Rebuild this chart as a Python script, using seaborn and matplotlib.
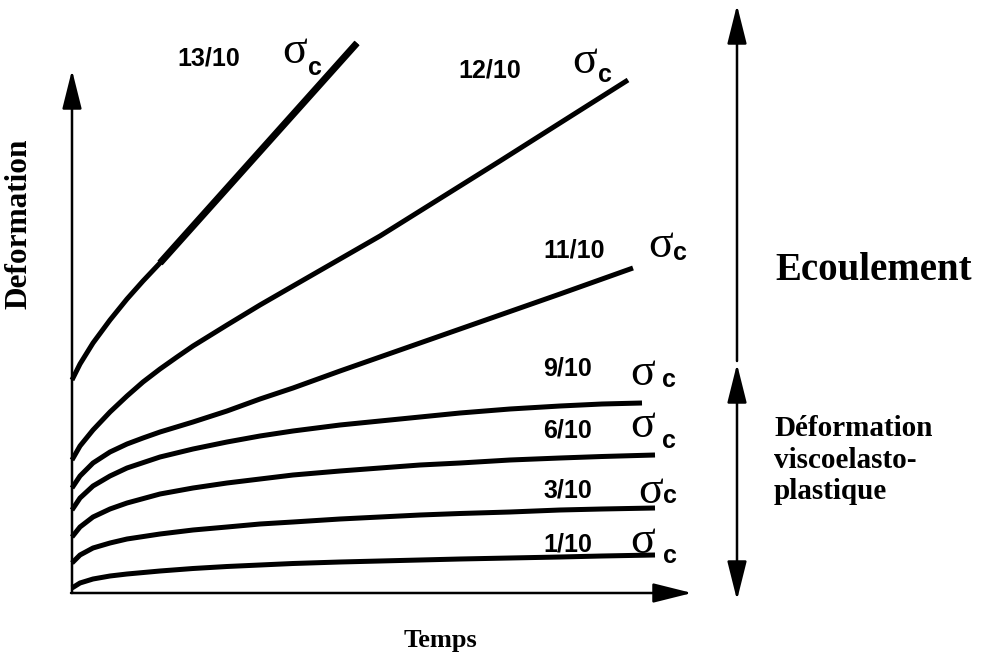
import numpy as np
import pandas as pd
import seaborn as sns
import matplotlib.pyplot as plt

# creep curves (temps, deformation) in picture units
labels = ["13/10", "12/10", "11/10", "9/10", "6/10", "3/10", "1/10"]

t_13 = [0, 8, 21, 38, 55, 71, 88, 285]
e_13 = [213, 229, 250, 273, 294, 312, 330, 550]

t_12 = [0, 8, 21, 38, 55, 71, 88, 105, 121, 155, 188, 221, 268, 308, 388, 428, 488, 556]
e_12 = [133, 147, 163, 181, 197, 211, 224, 236, 247, 268, 288, 307, 334, 357, 407, 432, 470, 513]

t_11 = [0, 8, 21, 38, 55, 71, 88, 121, 155, 188, 221, 268, 308, 388, 428, 488, 561]
e_11 = [105, 117, 130, 141, 149, 155, 161, 171, 182, 194, 205, 222, 236, 264, 278, 299, 325]

t_9 = [0, 8, 21, 38, 55, 88, 121, 155, 188, 221, 268, 308, 348, 388, 438, 488, 530, 570]
e_9 = [83, 95, 107, 117, 125, 136, 144, 151, 157, 162, 168, 172, 176, 180, 184, 187, 189, 190]

t_6 = [0, 8, 21, 38, 55, 88, 121, 155, 188, 221, 268, 308, 348, 388, 438, 488, 530, 583]
e_6 = [56, 66, 76, 84, 90, 99, 105, 110, 114, 118, 122, 125, 128, 130, 133, 135, 136.5, 138]

t_3 = [0, 8, 21, 38, 55, 88, 121, 155, 188, 221, 268, 308, 348, 388, 438, 488, 530, 583]
e_3 = [30, 38, 45, 50, 54, 59, 63, 66, 69, 71, 74, 76, 78, 79.5, 81, 83, 84, 85]

t_1 = [0, 8, 21, 38, 55, 88, 121, 155, 188, 221, 268, 308, 348, 388, 438, 488, 530, 583]
e_1 = [5, 10, 14, 17, 19, 22, 24.5, 26.5, 28, 29.5, 31, 32, 33, 34, 35, 36, 37, 38]

curves = [(t_13, e_13), (t_12, e_12), (t_11, e_11), (t_9, e_9),
          (t_6, e_6), (t_3, e_3), (t_1, e_1)]

rows = []
for lab, (t, e) in zip(labels, curves):
    for a, b in zip(t, e):
        rows.append({"sigma": lab, "temps": a, "deformation": b})
df = pd.DataFrame(rows)

sns.set_theme(style="white")
fig = plt.figure(figsize=(9.86, 6.53), dpi=100)
ax = fig.add_axes([0, 0, 1, 1])
ax.set_xlim(-72, 914)
ax.set_ylim(-60, 593)
ax.axis("off")

sns.lineplot(data=df, x="temps", y="deformation", hue="sigma",
             palette=["black"] * len(labels), sort=False, estimator=None,
             legend=False, lw=3.6, solid_capstyle="butt",
             solid_joinstyle="round", ax=ax)
# thicker straight part of the 13/10 curve
ax.plot(t_13[-2:], e_13[-2:], color="black", lw=5, solid_capstyle="butt")

# axes arrows
arr = dict(arrowstyle="-|>,head_length=2.0,head_width=0.5", lw=1.8,
           color="black", shrinkA=0, shrinkB=0)
ax.annotate("", xy=(0, 523), xytext=(0, 0), arrowprops=arr)
ax.annotate("", xy=(620, 0), xytext=(-1, 0), arrowprops=arr)

# right side arrows
ax.annotate("", xy=(665, 588), xytext=(665, 232), arrowprops=arr)
arr2 = dict(arrowstyle="<|-|>,head_length=2.0,head_width=0.5", lw=1.8,
            color="black", shrinkA=0, shrinkB=0)
ax.annotate("", xy=(665, 229), xytext=(665, -7), arrowprops=arr2)

# curve labels: number, sigma, subscript c
num_pos = [(105, 528), (386, 516), (471, 336), (471, 218), (471, 156), (471, 96), (471, 41)]
sig_pos = [(210, 530), (500, 520), (576, 336), (558, 208), (558, 156), (566, 90), (558, 40)]
c_pos = [(236, 518), (526, 511), (601, 333), (590, 206), (590, 145), (591, 90), (591, 30)]

for lab, p, s, c in zip(labels, num_pos, sig_pos, c_pos):
    ax.text(p[0], p[1], lab, ha="left", va="baseline", fontsize=18,
            fontweight="bold", family="Liberation Sans", color="black")
    ax.text(s[0], s[1], "\u03c3", ha="left", va="baseline", fontsize=33,
            family="Liberation Serif", color="black")
    ax.text(c[0], c[1], "c", ha="left", va="baseline", fontsize=18,
            fontweight="bold", family="Liberation Sans", color="black")

serif = dict(family="Liberation Serif", fontweight="bold", color="black")
ax.text(703, 313, "Ecoulement", ha="left", va="baseline", fontsize=28, **serif)
ax.text(702, 157, "Déformation", ha="left", va="baseline", fontsize=21, **serif)
ax.text(702, 125, "viscoelasto-", ha="left", va="baseline", fontsize=21, **serif)
ax.text(702, 94, "plastique", ha="left", va="baseline", fontsize=21, **serif)

ax.text(368, -54, "Temps", ha="center", va="baseline", fontsize=19, **serif)
ax.text(-53, 369, "Deformation", ha="center", va="center", rotation=90,
        fontsize=22.5, **serif)

fig.savefig("out.png", dpi=100)
